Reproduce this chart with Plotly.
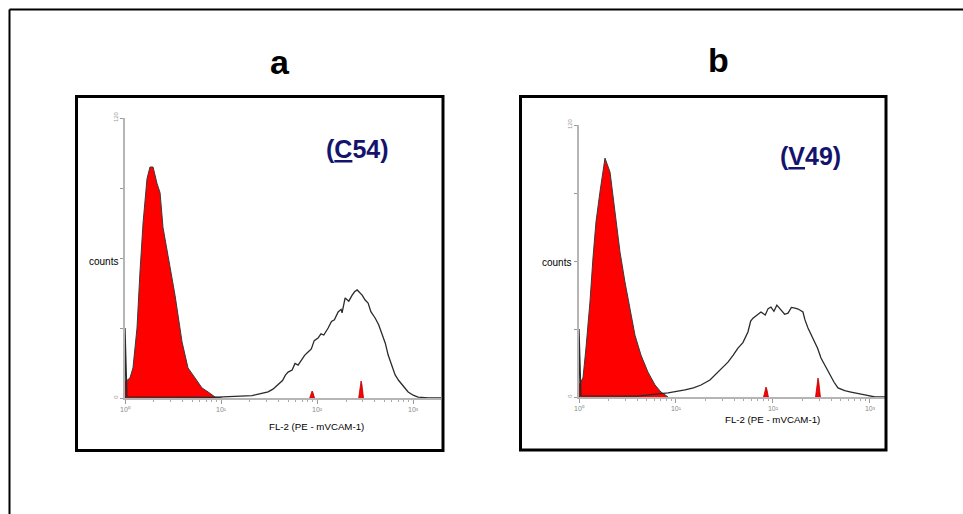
import math
import plotly.graph_objects as go

W, H = 963, 514

# ---------------- data (x in decades of log10 fluorescence, y in counts) ----------------
panel_titles = ["a", "b"]
clone_labels = ["(<u>C</u>54)", "(<u>V</u>49)"]
x_title = "FL-2 (PE - mVCAM-1)"
y_title = "counts"
x_tickvals = [0, 1, 2, 3]
x_ticktext = ["10⁰", "10¹", "10²", "10³"]
y_tickvals = [0, 30, 60, 90, 120]
y_ticktext = ["0", "", "", "", "120"]

# panel a: control (red filled) histogram
a_ctrl_x = [0, 0.052, 0.083, 0.125, 0.156, 0.188, 0.229, 0.260, 0.292, 0.333, 0.365,
            0.396, 0.448, 0.521, 0.594, 0.656, 0.729, 0.802, 0.865, 0.938, 1.01]
a_ctrl_y = [6.9, 8.6, 12.9, 30, 54, 75, 94, 99, 99, 92, 88,
            73, 61, 44, 24, 12.9, 8.6, 4.3, 2.6, 0.4, 0]
# panel a: stained (open) histogram
a_stain_x = [0, 0, 0.02, 0.3, 0.6, 0.9, 1.04, 1.15, 1.25, 1.323, 1.40, 1.49, 1.54, 1.594,
             1.64, 1.67, 1.698, 1.74, 1.77, 1.802, 1.84, 1.87, 1.906, 1.94, 1.97, 2.01,
             2.04, 2.07, 2.115, 2.15, 2.18, 2.219, 2.25, 2.26, 2.292, 2.33, 2.365, 2.39,
             2.417, 2.44, 2.469, 2.50, 2.531, 2.56, 2.604, 2.64, 2.677, 2.71, 2.740, 2.78,
             2.8125, 2.85, 2.885, 2.92, 2.948, 3.0, 3.052, 3.156, 3.29]
a_stain_y = [0, 30, 0.5, 0.3, 0.4, 0.3, 0.5, 0.6, 0.8, 1.0, 1.8, 2.6, 3.8, 5.6,
             7.5, 9.8, 11.1, 12.0, 14.8, 14.1, 16.5, 18.3, 19.7, 21.0, 24.6, 25.7,
             27.5, 27.0, 30, 32.8, 33.5, 36.9, 38.0, 36.5, 42.9, 41.5, 44.1, 45.5,
             46.3, 45.2, 44.1, 42.0, 40.7, 37.0, 34.3, 31.5, 27, 23.5, 18.4, 14.0,
             9.9, 7.5, 5.6, 4.0, 2.6, 1.2, 0.4, 0, 0]
a_spike_x = [1.948, 2.458]
a_spike_y = [3.0, 7.3]

# panel b: control (red filled) histogram
b_ctrl_x = [0, 0.041, 0.072, 0.113, 0.144, 0.175, 0.216, 0.247, 0.268, 0.320, 0.351,
            0.381, 0.423, 0.474, 0.526, 0.577, 0.639, 0.711, 0.784, 0.845, 0.918]
b_ctrl_y = [5.3, 8.4, 21.6, 41.9, 61.3, 77.2, 90.4, 99.2, 105.4, 99.2, 89.1,
            77.2, 63.9, 50.7, 39.2, 27.3, 18.5, 11, 5.3, 2.2, 0]
# panel b: stained (open) histogram
b_stain_x = [0, 0, 0.02, 0.3, 0.6, 0.918, 1.0, 1.093, 1.18, 1.258, 1.35, 1.433, 1.49,
             1.536, 1.59, 1.639, 1.69, 1.742, 1.77, 1.794, 1.83, 1.876, 1.92, 1.95,
             1.979, 2.01, 2.04, 2.082, 2.12, 2.155, 2.19, 2.227, 2.26, 2.309, 2.33,
             2.361, 2.40, 2.433, 2.46, 2.495, 2.54, 2.588, 2.63, 2.670, 2.74, 2.804,
             2.87, 2.948, 3.052, 3.155]
b_stain_y = [0, 30, 0.5, 0.3, 0.4, 1.8, 2.3, 3.1, 4.0, 5.3, 7.5, 11, 13.0,
             15.4, 18.5, 21.6, 24.0, 28.7, 33.5, 34.8, 36.0, 37.5, 36.2, 39.0,
             39.7, 37.8, 40.5, 38.4, 36.5, 37, 39.5, 39.2, 38.8, 37.5, 34.0,
             30.4, 27.0, 24.3, 21.5, 17.2, 13.5, 9.7, 6.5, 4, 2.8, 2.2,
             1.5, 0.9, 0, 0]
b_spike_x = [1.928, 2.464]
b_spike_y = [4.4, 8.4]

# ---------------- layout helpers ----------------
def fx(p):
    return p / W


def fy(p):
    return 1 - p / H


RED = "#ff0000"
NAVY = "#14146e"
FONT = "Liberation Sans, Arial, sans-serif"

fig = go.Figure()

panels = [
    dict(xa="x", ya="y", cx=a_ctrl_x, cy=a_ctrl_y, sx=a_stain_x, sy=a_stain_y,
         kx=a_spike_x, ky=a_spike_y),
    dict(xa="x2", ya="y2", cx=b_ctrl_x, cy=b_ctrl_y, sx=b_stain_x, sy=b_stain_y,
         kx=b_spike_x, ky=b_spike_y),
]

for p in panels:
    fig.add_trace(go.Scatter(x=p["cx"], y=p["cy"], xaxis=p["xa"], yaxis=p["ya"],
                             mode="lines", fill="tozeroy", fillcolor=RED,
                             line=dict(color="#3a3a3a", width=1), hoverinfo="skip"))
    for cxs, h in zip(p["kx"], p["ky"]):
        hw = 0.025
        fig.add_trace(go.Scatter(x=[cxs - hw, cxs - hw / 3, cxs, cxs + hw / 3, cxs + hw],
                                 y=[0, h * 0.8, h, h * 0.8, 0],
                                 xaxis=p["xa"], yaxis=p["ya"], mode="lines",
                                 fill="toself", fillcolor=RED,
                                 line=dict(color="#b00000", width=0.8), hoverinfo="skip"))
    fig.add_trace(go.Scatter(x=p["sx"], y=p["sy"], xaxis=p["xa"], yaxis=p["ya"],
                             mode="lines", line=dict(color="#2a2a2a", width=1.3),
                             hoverinfo="skip"))

minor_vals = [d + math.log10(m) for d in range(0, 4) for m in range(2, 10)]


def xaxis_cfg(domain, rng):
    return dict(domain=domain, range=rng, showgrid=False, zeroline=False,
                showline=True, linecolor="#b5b5b5", linewidth=2,
                tickmode="array", tickvals=x_tickvals, ticktext=x_ticktext,
                ticks="outside", ticklen=4, tickcolor="#999999", tickwidth=1,
                tickfont=dict(size=7, color="#888888", family=FONT),
                minor=dict(tickvals=minor_vals, ticks="outside", ticklen=2,
                           tickcolor="#aaaaaa"),
                fixedrange=True)


def yaxis_cfg(domain, anchor):
    return dict(domain=domain, range=[0, 120], showgrid=False, zeroline=False,
                showline=True, linecolor="#b5b5b5", linewidth=2, anchor=anchor,
                tickmode="array", tickvals=y_tickvals, ticktext=y_ticktext,
                ticks="outside", ticklen=3, tickcolor="#999999", tickwidth=1,
                tickangle=-90,
                tickfont=dict(size=6, color="#999999", family=FONT),
                fixedrange=True)


fig.update_layout(
    width=W, height=H,
    margin=dict(l=0, r=0, t=0, b=0, autoexpand=False),
    paper_bgcolor="white", plot_bgcolor="rgba(0,0,0,0)",
    showlegend=False,
    xaxis=xaxis_cfg([fx(125), fx(441)], [0, 3.29]) | dict(anchor="y"),
    yaxis=yaxis_cfg([fy(398), fy(118)], "x"),
    xaxis2=xaxis_cfg([fx(579), fx(885)], [0, 3.155]) | dict(anchor="y2"),
    yaxis2=yaxis_cfg([fy(397), fy(125)], "x2"),
)

shapes = [
    # outer figure frame (top and left edges visible)
    dict(type="line", xref="paper", yref="paper", x0=fx(9.5), x1=1, y0=fy(9.5), y1=fy(9.5),
         line=dict(color="black", width=2)),
    dict(type="line", xref="paper", yref="paper", x0=fx(9.5), x1=fx(9.5), y0=fy(9.5), y1=0,
         line=dict(color="black", width=2)),
    # panel frames
    dict(type="rect", xref="paper", yref="paper", x0=fx(76.5), x1=fx(443), y0=fy(96.5), y1=fy(450.5),
         line=dict(color="black", width=3), fillcolor="rgba(0,0,0,0)"),
    dict(type="rect", xref="paper", yref="paper", x0=fx(520.5), x1=fx(886), y0=fy(96.5), y1=fy(450),
         line=dict(color="black", width=3), fillcolor="rgba(0,0,0,0)"),
]
fig.update_layout(shapes=shapes)

annos = []
for title, cx, cy in zip(panel_titles, [280, 718], [62, 60]):
    annos.append(dict(text=f"<b>{title}</b>", x=fx(cx), y=fy(cy), xref="paper", yref="paper",
                      xanchor="center", yanchor="middle",
                      showarrow=False, font=dict(size=34, color="black", family=FONT)))
for lab, cx, cy in zip(clone_labels, [357, 810], [149, 156]):
    annos.append(dict(text=f"<b>{lab}</b>", x=fx(cx), y=fy(cy), xref="paper", yref="paper",
                      xanchor="center", yanchor="middle",
                      showarrow=False, font=dict(size=25, color=NAVY, family=FONT)))
for cx, cy in [(103, 261), (556, 262)]:
    annos.append(dict(text=y_title, x=fx(cx), y=fy(cy), xref="paper", yref="paper",
                      xanchor="center", yanchor="middle",
                      showarrow=False, font=dict(size=10, color="black", family=FONT)))
for cx, cy in [(316, 426), (772, 419)]:
    annos.append(dict(text=x_title, x=fx(cx), y=fy(cy), xref="paper", yref="paper",
                      xanchor="center", yanchor="middle",
                      showarrow=False, font=dict(size=9.7, color="black", family=FONT)))
fig.update_layout(annotations=annos)

fig.write_html("out.html")
